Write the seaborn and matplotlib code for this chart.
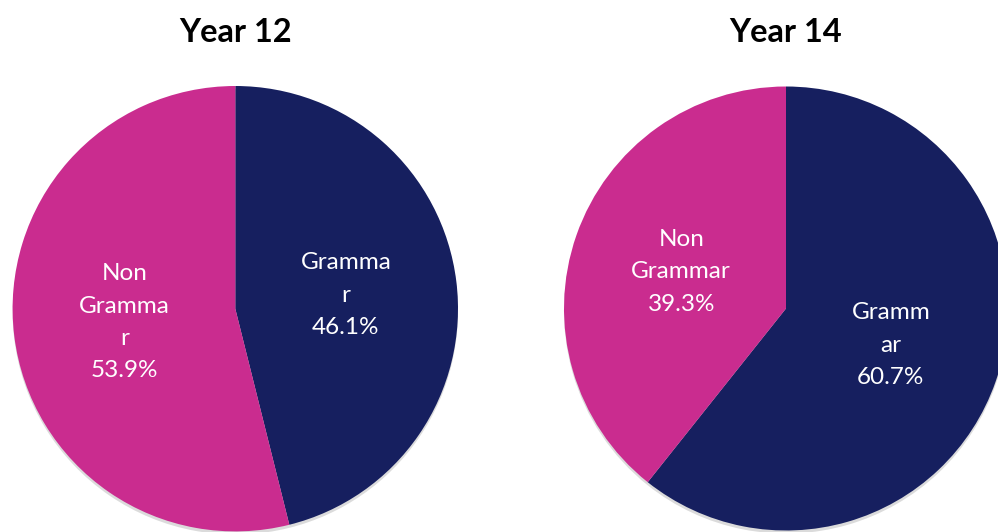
import matplotlib
matplotlib.use("Agg")
import matplotlib.pyplot as plt
import seaborn as sns

years = ["Year 12", "Year 14"]
categories = ["Grammar", "Non Grammar"]
grammar_pct = [46.1, 60.7]
non_grammar_pct = [53.9, 39.3]
# wrapped label texts as they appear on the chart
year12_names = ["Gramma\nr", "Non\nGramma\nr"]
year14_names = ["Gramm\nar", "Non\nGrammar"]

navy = "#161F5F"
magenta = "#CA2C8F"

sns.set_theme(style="white")
plt.rcParams["font.family"] = ["Lato", "DejaVu Sans"]

fig = plt.figure(figsize=(9.98, 5.32), dpi=100)
W, H = 998, 532

# pie centre (px from left, px from top) and radius in px
pie_geom = [(235.3, 308.7, 222.7), (786.0, 308.5, 222.0)]
names_all = [year12_names, year14_names]

for i, year in enumerate(years):
    cx, cy, r = pie_geom[i]
    ax = fig.add_axes([(cx - r) / W, (H - cy - r) / H, 2 * r / W, 2 * r / H])
    vals = [grammar_pct[i], non_grammar_pct[i]]
    labels = [f"{n}\n{v:.1f}%" for n, v in zip(names_all[i], vals)]
    wedges, texts = ax.pie(
        vals,
        labels=labels,
        colors=[navy, magenta],
        startangle=90,
        counterclock=False,
        labeldistance=0.5,
        wedgeprops={"edgecolor": "none", "linewidth": 0},
        shadow={"ox": 0.0, "oy": -0.01, "facecolor": "#9a9a9a",
                "edgecolor": "none", "alpha": 0.35},
        textprops={"color": "white", "fontsize": 17.5, "linespacing": 1.66},
    )
    for t in texts:
        t.set_ha("center")
        t.set_multialignment("center")
    ax.set_xlim(-1, 1)
    ax.set_ylim(-1, 1)
    ax.set_title(year, fontsize=23.5, fontweight="bold", pad=32, color="black")

fig.savefig("out.png", dpi=100)
